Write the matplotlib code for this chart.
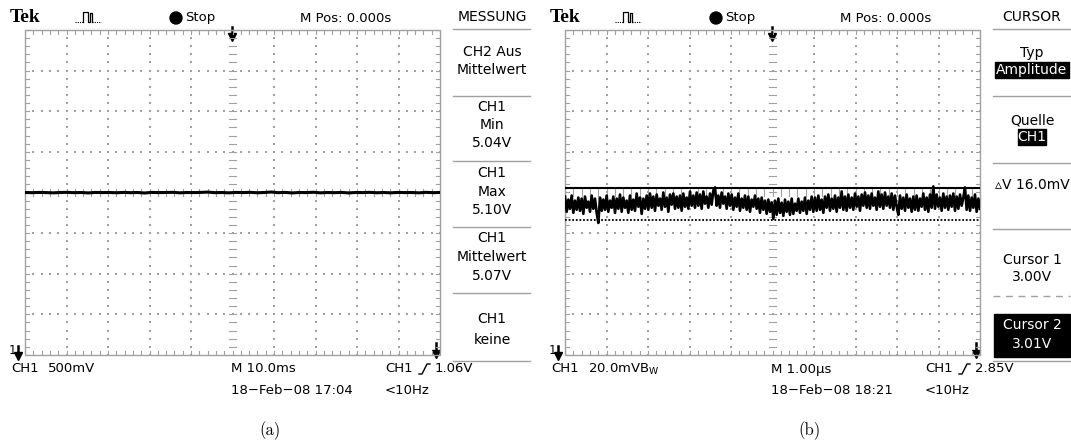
import numpy as np
import matplotlib
matplotlib.use('Agg')
import matplotlib.pyplot as plt
from matplotlib.patches import Rectangle, Circle

plt.rcParams['font.family'] = ['DejaVu Sans']
plt.rcParams['mathtext.fontset'] = 'dejavusans'

# ---- panel (a): DC level, volts (500 mV/div, screen centre at 5.07 V)
TRACE_A_V = [5.070, 5.068, 5.071, 5.069, 5.066, 5.070, 5.072, 5.068, 5.070, 5.065,
             5.071, 5.069, 5.070, 5.067, 5.071, 5.068, 5.070, 5.064, 5.071, 5.069,
             5.070, 5.072, 5.066, 5.070, 5.069, 5.071, 5.075, 5.068, 5.070, 5.066,
             5.071, 5.069, 5.072, 5.067, 5.070, 5.076, 5.068, 5.071, 5.065, 5.070,
             5.069, 5.073, 5.066, 5.070, 5.068, 5.071, 5.065, 5.070, 5.069, 5.072,
             5.067, 5.070, 5.066, 5.071, 5.069, 5.070, 5.066, 5.072, 5.068, 5.070]
VOLTS_PER_DIV_A = 0.5
CENTER_A_V = 5.07

# ---- panel (b): ripple, mV relative to screen centre (20 mV/div)
TRACE_B_MV = [
    -2.0, -9.5, -3.5, -8.0, -1.5, -10.0, -4.0, -8.5, -2.5, -9.0,
    -3.0, -10.5, -2.0, -7.5, -4.5, -9.5, -1.5, -8.0, -3.0, -10.0,
    -15.0, -2.5, -9.0, -3.5, -8.5, -1.5, -9.5, -4.0, -7.5, -2.0,
    -10.0, -3.0, -8.0, -1.0, -9.5, -2.5, -7.5, -4.0, -10.0, -1.5,
    -8.5, -3.5, -9.0, -0.5, -7.0, -2.5, -10.5, -3.0, -8.0, -1.5,
    -8.5, -0.5, -7.5, -2.0, -9.0, -1.0, -6.5, -3.0, -8.5, 0.0,
    -7.0, -2.5, -9.5, -1.0, -6.0, -0.5, -8.0, -2.0, -7.5, -1.5,
    -9.0, -0.5, -7.0, -2.5, -8.0, 0.5, -6.5, -1.5, -7.5, 0.0,
    -6.5, -1.0, -8.0, 0.5, -5.5, -2.0, -7.5, -0.5, -6.0, 1.0,
    2.5, -6.5, -1.5, -7.5, 0.0, -5.5, -2.0, -8.0, -0.5, -6.5,
    -1.0, -8.5, -2.5, -7.0, -0.5, -9.0, -3.0, -7.5, -1.5, -8.5,
    -2.0, -9.5, -3.5, -7.0, -1.5, -8.0, -3.0, -10.0, -2.5, -8.5,
    -4.0, -10.5, -3.5, -9.5, -5.0, -13.0, -4.0, -11.0, -3.0, -10.0,
    -5.0, -11.5, -3.5, -9.5, -4.5, -11.0, -3.0, -10.5, -5.5, -9.0,
    -3.0, -10.0, -4.5, -9.0, -2.5, -10.5, -4.0, -8.5, -2.0, -9.5,
    -2.5, -9.0, -1.5, -8.5, -3.5, -10.0, -2.0, -7.5, -1.0, -9.0,
    -3.0, -8.0, -1.5, -9.5, -2.5, -7.5, 0.5, -8.5, -2.0, -9.0,
    -1.0, -7.5, -2.5, -8.5, -0.5, -7.0, -2.0, -9.0, -1.0, -6.5,
    0.0, -7.5, -1.5, -8.0, -0.5, -6.5, -2.5, -8.5, 0.5, -7.0,
    -1.0, -8.0, 0.0, -6.5, -2.0, -7.5, -0.5, -8.5, -1.5, -7.0,
    -11.0, -1.5, -8.0, -2.5, -9.0, -1.0, -7.5, -3.0, -9.5, -2.0,
    -8.5, -1.5, -9.0, -3.0, -7.0, -0.5, -8.5, -2.5, -9.5, -1.0,
    -7.5, 3.0, -8.0, -1.0, -7.0, -2.5, -9.0, -0.5, -7.5, -2.0,
    -8.5, -1.5, -7.0, -0.5, -9.0, -2.0, -8.0, -1.0, -6.5, -2.5,
    2.5, -8.5, -1.5, -9.0, -2.5, -7.5, -1.0, -9.5, -3.0, -8.0]
MV_PER_DIV_B = 20.0
CURSOR_B_MV = [-13.6, 2.4]   # cursor 1 (dotted), cursor 2 (solid)

W, H = 1071, 448
GRID_L = [25, 565]
GRID_TOP, GRID_BOT, GRID_W = 30, 355, 415
GRAY = '#a0a0a0'
FS = 9.5      # status line text
FS_MENU = 10  # side menu text

fig = plt.figure(figsize=(W / 100, H / 100), dpi=100)
bg = fig.add_axes([0, 0, 1, 1])
bg.set_xlim(0, W)
bg.set_ylim(H, 0)
bg.axis('off')


def scope_axes(x0):
    ax = fig.add_axes([x0 / W, (H - GRID_BOT) / H, GRID_W / W, (GRID_BOT - GRID_TOP) / H])
    ax.set_xlim(0, 10)
    ax.set_ylim(-4, 4)
    ax.axis('off')
    ax.patch.set_alpha(0)
    xm = np.arange(0, 10.01, 0.2)
    ym = np.arange(-4, 4.01, 0.2)
    for gx in range(1, 10):
        if gx != 5:
            ax.scatter([gx] * len(ym), ym, s=1.2, marker='s', color=GRAY, linewidths=0)
    for gy in range(-3, 4):
        if gy != 0:
            ax.scatter(xm, [gy] * len(xm), s=1.2, marker='s', color=GRAY, linewidths=0)
    for y in ym:
        ax.plot([4.92, 5.08], [y, y], color=GRAY, lw=0.8)
        ax.plot([0, 0.1], [y, y], color=GRAY, lw=0.8)
        ax.plot([9.9, 10], [y, y], color=GRAY, lw=0.8)
    for x in xm:
        ax.plot([x, x], [-0.08, 0.08], color=GRAY, lw=0.8)
        ax.plot([x, x], [4, 3.9], color=GRAY, lw=0.8)
        ax.plot([x, x], [-4, -3.9], color=GRAY, lw=0.8)
    ax.add_patch(Rectangle((0, -4), 10, 8, fill=False, edgecolor=GRAY, lw=1, clip_on=False))
    return ax


def header(dx, title):
    bg.text(dx + 10, 18, 'Tek', fontfamily='Liberation Serif', fontweight='bold', fontsize=14, va='center')
    # acquisition pulse glyph
    bg.plot([dx + 75, dx + 83], [22, 22], color='k', lw=0.8, ls=(0, (1, 1)))
    bg.plot([dx + 83, dx + 83, dx + 88, dx + 88, dx + 90, dx + 90, dx + 92, dx + 92],
            [22, 12, 12, 22, 22, 13, 13, 22], color='k', lw=0.9)
    bg.plot([dx + 92, dx + 101], [22, 22], color='k', lw=0.8, ls=(0, (1, 1)))
    bg.add_patch(Circle((dx + 176, 18), 6, color='k'))
    bg.text(dx + 185, 18, 'Stop', fontsize=FS, va='center')
    bg.text(dx + 300, 18, 'M Pos: 0.000s', fontsize=FS, va='center')
    bg.text(dx + 492, 17, title, fontsize=FS_MENU, va='center', ha='center')


def arrow(x, y_top, y_head):
    bg.plot([x, x], [y_top, y_head - 3], color='k', lw=1.8)
    bg.plot([x], [y_head - 2], marker='v', color='k', markersize=6)


def slope(x, y):
    bg.plot([x, x + 3, x + 8, x + 11], [y + 5, y + 5, y - 5, y - 5], color='k', lw=1)


def separator(dx, y, dashed=False):
    bg.plot([dx + 453, dx + 530], [y, y], color=GRAY, lw=1, ls=(0, (5, 4)) if dashed else '-')


for dx, title in [(0, 'MESSUNG'), (540, 'CURSOR')]:
    header(dx, title)
    arrow(dx + 232, 27, 39)
    arrow(dx + 436, 343, 356)
    bg.text(dx + 9, 350, '1', fontsize=FS - 1, va='center')
    arrow(dx + 18, 346, 358)
    for y in [29, 96, 361]:
        separator(dx, y)

# ---- panel (a)
ax_a = scope_axes(GRID_L[0])
xa = np.linspace(0, 10, len(TRACE_A_V))
ax_a.plot(xa, (np.array(TRACE_A_V) - CENTER_A_V) / VOLTS_PER_DIV_A, color='k', lw=2.2)

for y in [161, 227, 293]:
    separator(0, y)
for txt, y in [('CH2 Aus', 52), ('Mittelwert', 70), ('CH1', 107), ('Min', 125), ('5.04V', 143),
               ('CH1', 173), ('Max', 192), ('5.10V', 210), ('CH1', 238), ('Mittelwert', 257),
               ('5.07V', 276), ('CH1', 319), ('keine', 340)]:
    bg.text(492, y, txt, fontsize=FS_MENU, ha='center', va='center')

bg.text(11, 369, 'CH1', fontsize=FS, va='center')
bg.text(48, 369, '500mV', fontsize=FS, va='center')
bg.text(231, 369, 'M 10.0ms', fontsize=FS, va='center')
bg.text(385, 369, 'CH1', fontsize=FS, va='center')
slope(419, 369)
bg.text(435, 369, '1.06V', fontsize=FS, va='center')
bg.text(231, 390, '18\u2212Feb\u221208 17:04', fontsize=FS, va='center')
bg.text(385, 390, '<10Hz', fontsize=FS, va='center')
bg.text(270, 431, '(a)', fontfamily='cmr10', fontsize=12, ha='center', va='center')

# ---- panel (b)
ax_b = scope_axes(GRID_L[1])
xb = np.linspace(0, 10, len(TRACE_B_MV))
ax_b.plot(xb, np.array(TRACE_B_MV) / MV_PER_DIV_B, color='k', lw=1.9)
ax_b.axhline(CURSOR_B_MV[1] / MV_PER_DIV_B, color='k', lw=1.5)
ax_b.axhline(CURSOR_B_MV[0] / MV_PER_DIV_B, color='k', lw=1.3, ls=(0, (1, 1)))

for y in [163, 229]:
    separator(540, y)
separator(540, 296, dashed=True)
bg.add_patch(Rectangle((995, 62), 74, 16, color='k'))
bg.add_patch(Rectangle((1018, 129), 28, 16, color='k'))
bg.add_patch(Rectangle((994, 314), 76, 43, color='k'))
for txt, y, c in [('Typ', 53, 'k'), ('Amplitude', 70, 'w'), ('Quelle', 120, 'k'), ('CH1', 137, 'w'),
                  ('\u25b5V 16.0mV', 185, 'k'), ('Cursor 1', 260, 'k'), ('3.00V', 277, 'k'),
                  ('Cursor 2', 325, 'w'), ('3.01V', 344, 'w')]:
    bg.text(1032, y, txt, fontsize=FS_MENU, ha='center', va='center', color=c)

bg.text(551, 369, 'CH1', fontsize=FS, va='center')
bg.text(588, 369, r'20.0mVB$_{\mathregular{W}}$', fontsize=FS, va='center')
bg.text(771, 369, 'M 1.00\u00b5s', fontsize=FS, va='center')
bg.text(925, 369, 'CH1', fontsize=FS, va='center')
slope(959, 369)
bg.text(975, 369, '2.85V', fontsize=FS, va='center')
bg.text(771, 390, '18\u2212Feb\u221208 18:21', fontsize=FS, va='center')
bg.text(925, 390, '<10Hz', fontsize=FS, va='center')
bg.text(810, 431, '(b)', fontfamily='cmr10', fontsize=12, ha='center', va='center')

fig.savefig('out.png', dpi=100)
